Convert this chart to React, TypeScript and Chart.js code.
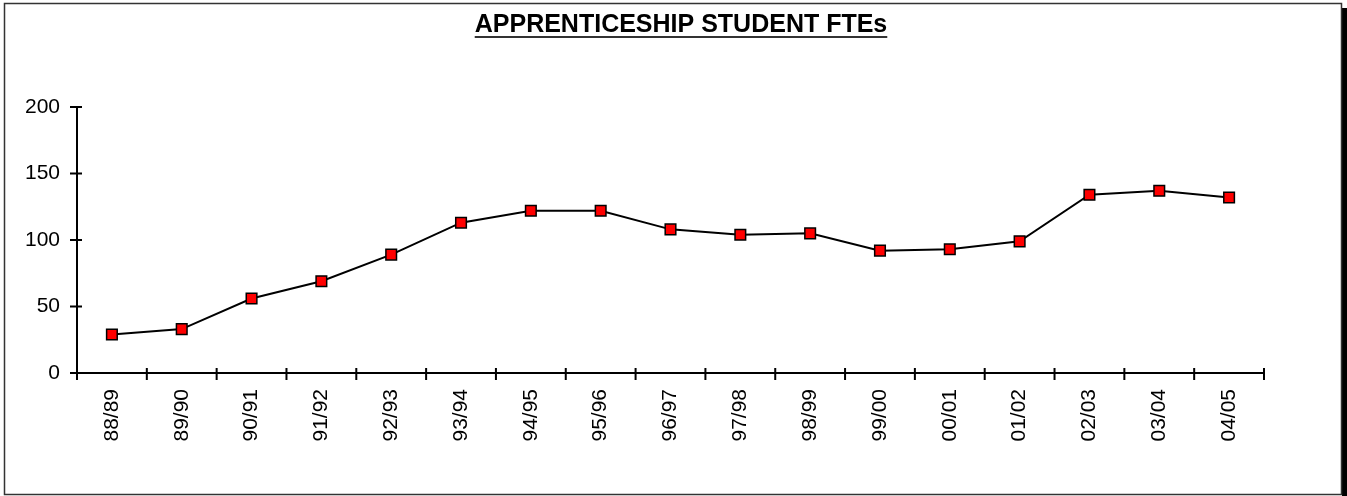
import React, { useEffect, useRef } from "react";
import { Chart, registerables } from "chart.js";

Chart.register(...registerables);

const TITLE = "APPRENTICESHIP STUDENT FTEs";
const categories = ["88/89", "89/90", "90/91", "91/92", "92/93", "93/94", "94/95", "95/96", "96/97", "97/98", "98/99", "99/00", "00/01", "01/02", "02/03", "03/04", "04/05"];
const fteValues = [29, 33, 56, 69, 89, 113, 122, 122, 108, 104, 105, 92, 93, 99, 134, 137, 132];
const yTicks = [0, 50, 100, 150, 200];

const FONT = "'Liberation Sans', Arial, sans-serif";

const framePlugin = {
  id: "frame",
  beforeDraw(chart: any) {
    const ctx = chart.ctx;
    const W = chart.width;
    const H = chart.height;
    ctx.save();
    ctx.fillStyle = "#ffffff";
    ctx.fillRect(0, 0, W, H);
    // shadow
    ctx.fillStyle = "#000000";
    ctx.fillRect(1342, 8, W - 1342, H - 8);
    // border
    ctx.strokeStyle = "#333333";
    ctx.lineWidth = 1.5;
    ctx.strokeRect(4.5, 3.5, 1337, 491);
    // title
    ctx.fillStyle = "#000000";
    ctx.font = `bold 25px ${FONT}`;
    ctx.textAlign = "center";
    ctx.textBaseline = "alphabetic";
    const cx = 681;
    ctx.fillText(TITLE, cx, 32);
    const w = ctx.measureText(TITLE).width;
    ctx.lineWidth = 2;
    ctx.beginPath();
    ctx.moveTo(cx - w / 2, 37);
    ctx.lineTo(cx + w / 2, 37);
    ctx.stroke();
    ctx.restore();
  },
  afterDraw(chart: any) {
    const ctx = chart.ctx;
    const xs = chart.scales.x;
    const ys = chart.scales.y;
    const area = chart.chartArea;
    ctx.save();
    ctx.strokeStyle = "#000000";
    ctx.lineWidth = 2;
    ctx.beginPath();
    // axes
    ctx.moveTo(area.left, area.top);
    ctx.lineTo(area.left, area.bottom);
    ctx.lineTo(area.right, area.bottom);
    // y ticks
    yTicks.forEach((v) => {
      const y = ys.getPixelForValue(v);
      ctx.moveTo(area.left - 7, y);
      ctx.lineTo(area.left + 5, y);
    });
    // x ticks at category boundaries
    const n = categories.length;
    for (let i = 0; i <= n; i++) {
      const x = xs.left + (i * xs.width) / n;
      ctx.moveTo(x, area.bottom - 5);
      ctx.lineTo(x, area.bottom + 7);
    }
    ctx.stroke();
    ctx.restore();
  },
};

export default function App() {
  const ref = useRef<HTMLCanvasElement | null>(null);
  useEffect(() => {
    if (!ref.current) return;
    const chart = new Chart(ref.current, {
      type: "line",
      data: {
        labels: categories,
        datasets: [
          {
            data: fteValues,
            borderColor: "#000000",
            borderWidth: 2,
            pointStyle: "rect",
            pointRadius: 7.5,
            pointBackgroundColor: "#ff0000",
            pointBorderColor: "#000000",
            pointBorderWidth: 1.5,
            tension: 0,
            fill: false,
          },
        ],
      },
      options: {
        animation: false,
        responsive: false,
        devicePixelRatio: 1,
        layout: { padding: { left: 0, right: 83, top: 107, bottom: 23 } },
        plugins: {
          legend: { display: false },
          title: { display: false },
          tooltip: { enabled: false },
        },
        scales: {
          x: {
            type: "category",
            offset: true,
            grid: { display: false, drawTicks: false, offset: true },
            border: { display: false },
            ticks: {
              color: "#000000",
              font: { family: FONT, size: 21 },
              minRotation: 90,
              maxRotation: 90,
              padding: 16,
              autoSkip: false,
            },
            afterFit: (s: any) => {
              s.height = 100;
            },
          },
          y: {
            min: 0,
            max: 200,
            grid: { display: false, drawTicks: false },
            border: { display: false },
            ticks: {
              stepSize: 50,
              color: "#000000",
              font: { family: FONT, size: 21 },
              padding: 17,
            },
            afterFit: (s: any) => {
              s.width = 77;
            },
          },
        },
      },
      plugins: [framePlugin],
    });
    return () => chart.destroy();
  }, []);
  return (
    <div style={{ position: "absolute", left: 0, top: 0, width: 1347, height: 496 }}>
      <canvas ref={ref} width={1347} height={496} style={{ display: "block", width: 1347, height: 496 }} />
    </div>
  );
}
